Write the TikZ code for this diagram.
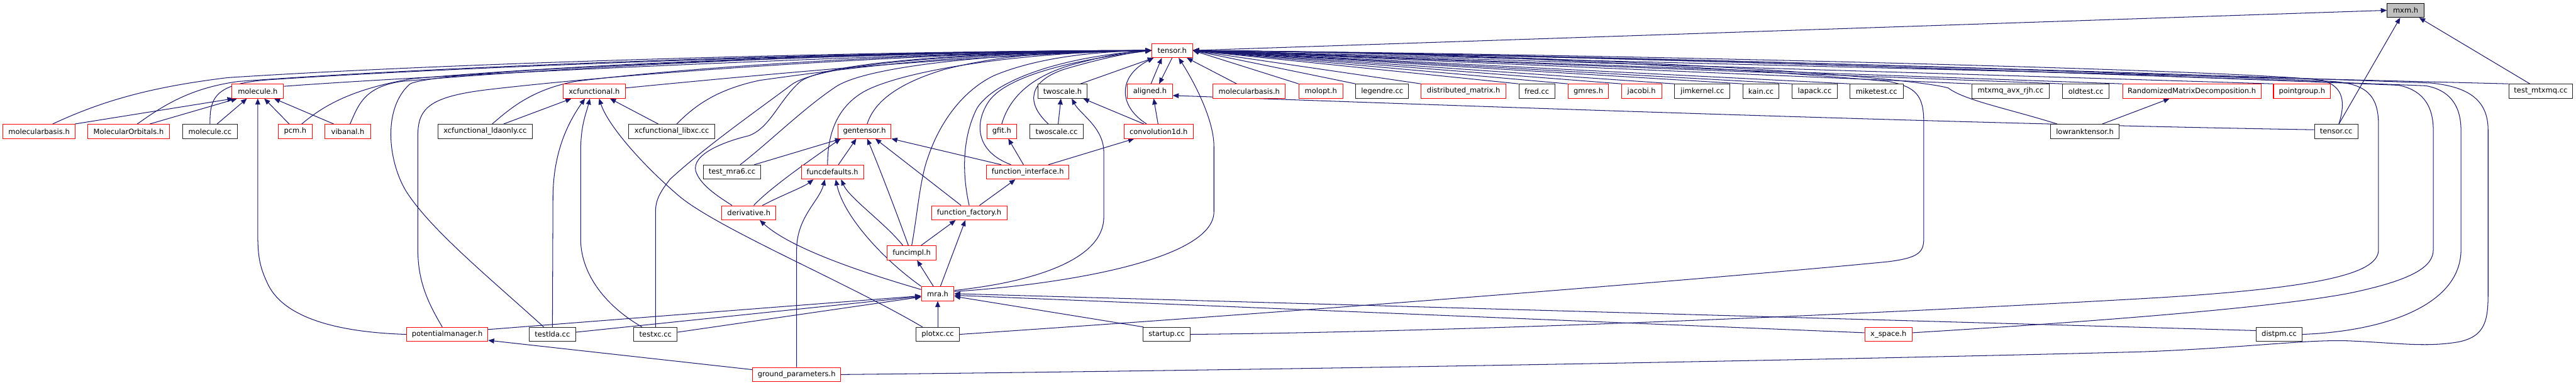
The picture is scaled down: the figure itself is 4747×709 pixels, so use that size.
\documentclass[tikz,border=0pt]{standalone}
\usepackage{fontspec}
\newfontfamily\dvs{DejaVu Sans}
\usetikzlibrary{arrows.meta}
\definecolor{edgeblue}{HTML}{191970}
\definecolor{boxred}{HTML}{FF0000}
\definecolor{boxblack}{HTML}{222222}
\definecolor{boxgray}{HTML}{BFBFBF}
\pgfdeclarelayer{bg}
\pgfsetlayers{bg,main}
\begin{document}
\begin{tikzpicture}[x=1pt,y=-1pt,
  nd/.style={draw, line width=1.2pt, minimum height=26pt, inner sep=0pt, fill=white, text=black,
             font=\dvs\fontsize{13.3pt}{16pt}\selectfont},
  rd/.style={nd, draw=boxred},
  bk/.style={nd, draw=boxblack},
  gy/.style={nd, draw=black, fill=boxgray},
  edg/.style={draw=edgeblue, line width=1.2pt, -{Triangle[length=11pt,width=9pt]}}]
\useasboundingbox (0,0) rectangle (4747,709);
% row 0,1
\node[gy, minimum width=68pt] (mxm) at (4433,19) {mxm.h};
\node[rd, minimum width=75pt] (tensorh) at (2160,93) {tensor.h};
% row 2
\node[rd, minimum width=95pt] (moleculeh) at (475,168) {molecule.h};
\node[rd, minimum width=115pt] (xcfunch) at (1095,168) {xcfunctional.h};
\node[bk, minimum width=91pt] (twoscaleh) at (1958,168) {twoscale.h};
\node[rd, minimum width=83pt] (alignedh) at (2119,168) {aligned.h};
\node[rd, minimum width=133pt] (molbasisB) at (2302,168) {molecularbasis.h};
\node[rd, minimum width=81pt] (molopt) at (2434,168) {molopt.h};
\node[bk, minimum width=97pt] (legendre) at (2547,168) {legendre.cc};
\node[rd, minimum width=156pt] (distmat) at (2697,168) {distributed\_matrix.h};
\node[bk, minimum width=66pt] (fred) at (2832,168) {fred.cc};
\node[rd, minimum width=75pt] (gmres) at (2927,168) {gmres.h};
\node[rd, minimum width=74pt] (jacobi) at (3025,168) {jacobi.h};
\node[bk, minimum width=102pt] (jimkernel) at (3137,168) {jimkernel.cc};
\node[bk, minimum width=66pt] (kain) at (3245,168) {kain.cc};
\node[bk, minimum width=83pt] (lapack) at (3344,168) {lapack.cc};
\node[bk, minimum width=98pt] (miketest) at (3458,168) {miketest.cc};
\node[bk, minimum width=143pt] (mtxmq) at (3705,168) {mtxmq\_avx\_rjh.cc};
\node[bk, minimum width=86pt] (oldtest) at (3844,168) {oldtest.cc};
\node[rd, minimum width=255pt] (rmd) at (4039,168) {RandomizedMatrixDecomposition.h};
\node[rd, minimum width=105pt] (pointgroup) at (4242,168) {pointgroup.h};
\node[bk, minimum width=118pt] (testmtxmq) at (4682,168) {test\_mtxmq.cc};
% row 3
\node[rd, minimum width=133pt] (molbasisA) at (72,242) {molecularbasis.h};
\node[rd, minimum width=150pt] (molorb) at (237,242) {MolecularOrbitals.h};
\node[bk, minimum width=100pt] (moleculecc) at (387,242) {molecule.cc};
\node[rd, minimum width=63pt] (pcm) at (544,242) {pcm.h};
\node[rd, minimum width=84pt] (vibanal) at (641,242) {vibanal.h};
\node[bk, minimum width=173pt] (xcldaonly) at (894,242) {xcfunctional\_ldaonly.cc};
\node[bk, minimum width=159pt] (xclibxc) at (1238,242) {xcfunctional\_libxc.cc};
\node[rd, minimum width=98pt] (gentensor) at (1593,242) {gentensor.h};
\node[rd, minimum width=55pt] (gfit) at (1846,242) {gfit.h};
\node[bk, minimum width=99pt] (twoscalecc) at (1947,242) {twoscale.cc};
\node[rd, minimum width=127pt] (conv1d) at (2135,242) {convolution1d.h};
\node[bk, minimum width=126pt] (lowrank) at (3842,242) {lowranktensor.h};
\node[bk, minimum width=80pt] (tensorcc) at (4305,242) {tensor.cc};
% row 4
\node[bk, minimum width=106pt] (testmra6) at (1349,317) {test\_mra6.cc};
\node[rd, minimum width=115pt] (funcdefaults) at (1534,317) {funcdefaults.h};
\node[rd, minimum width=152pt] (funcinterface) at (1894,317) {function\_interface.h};
% row 5
\node[rd, minimum width=100pt] (derivative) at (1380,392) {derivative.h};
\node[rd, minimum width=139pt] (funcfactory) at (1786,392) {function\_factory.h};
% row 6
\node[rd, minimum width=90pt] (funcimpl) at (1680,466) {funcimpl.h};
% row 7
\node[rd, minimum width=60pt] (mra) at (1728,541) {mra.h};
% row 8
\node[rd, minimum width=150pt] (potmgr) at (824,616) {potentialmanager.h};
\node[bk, minimum width=85pt] (testlda) at (1018,616) {testlda.cc};
\node[bk, minimum width=80pt] (testxc) at (1208,616) {testxc.cc};
\node[bk, minimum width=80pt] (plotxc) at (1728,616) {plotxc.cc};
\node[bk, minimum width=87pt] (startup) at (2150,616) {startup.cc};
\node[rd, minimum width=87pt] (xspace) at (3480,616) {x\_space.h};
\node[bk, minimum width=85pt] (distpm) at (4200,616) {distpm.cc};
% row 9
\node[rd, minimum width=162pt] (groundparams) at (1468,690) {ground\_parameters.h};

\begin{pgfonlayer}{bg}
% ---- to mxm.h
\draw[edg] (tensorh.east) -- (mxm.west);
\draw[edg] ([xshift=5pt]tensorcc.north) -- ([xshift=-10pt]mxm.south);
\draw[edg] ([xshift=-20pt]testmtxmq.north) -- ([xshift=25pt]mxm.south);
% ---- left bundle to tensor.h
\draw[edg] ([xshift=25pt]molbasisA.north) .. controls (190,185) and (280,160) .. (420,143) .. controls (900,112) and (1700,93) .. (tensorh.west);
\draw[edg] ([xshift=16pt]molorb.north) .. controls (300,195) and (350,162) .. (440,150) .. controls (900,116) and (1700,93) .. (tensorh.west);
\draw[edg] (moleculecc.north) .. controls (386,175) and (400,152) .. (510,146) .. controls (900,120) and (1700,93) .. (tensorh.west);
\draw[edg] ([yshift=9pt]moleculeh.east) .. controls (800,138) and (1700,95) .. (tensorh.west);
\draw[edg] ([xshift=12pt]pcm.north) .. controls (590,200) and (640,165) .. (760,145) .. controls (1100,115) and (1700,93) .. (tensorh.west);
\draw[edg] ([xshift=4pt]vibanal.north) .. controls (660,195) and (670,160) .. (740,150) .. controls (1100,118) and (1700,93) .. (tensorh.west);
\draw[edg] ([xshift=-9pt]potmgr.north) .. controls (790,560) and (770,520) .. (770,460) -- (770,250) .. controls (770,200) and (790,178) .. (900,165) .. controls (1200,130) and (1750,95) .. (tensorh.west);
\draw[edg] ([xshift=-16pt]testlda.north) .. controls (900,510) and (790,420) .. (747,350) .. controls (715,295) and (705,200) .. (755,155) .. controls (800,125) and (1700,95) .. (tensorh.west);
\draw[edg] ([xshift=13pt]xcldaonly.north) .. controls (940,200) and (980,165) .. (1060,150) .. controls (1300,120) and (1750,95) .. (tensorh.west);
\draw[edg] ([yshift=6pt]xcfunch.east) .. controls (1400,138) and (1800,100) .. (tensorh.west);
\draw[edg] ([xshift=9pt]xclibxc.north) .. controls (1280,195) and (1320,165) .. (1400,148) .. controls (1600,120) and (1800,97) .. (tensorh.west);
\draw[edg] (testxc.north) -- (1208,390) .. controls (1208,370) and (1215,355) .. (1235,330) .. controls (1300,270) and (1400,200) .. (1460,155) .. controls (1520,115) and (1800,97) .. (tensorh.west);
\draw[edg] ([xshift=-31pt]derivative.north) .. controls (1320,360) and (1290,340) .. (1282,315) .. controls (1275,285) and (1330,262) .. (1380,250) .. controls (1420,235) and (1435,185) .. (1475,150) .. controls (1530,112) and (1800,97) .. (tensorh.west);
\draw[edg] ([xshift=15pt]testmra6.north) .. controls (1420,260) and (1480,200) .. (1540,160) .. controls (1600,120) and (1850,97) .. (tensorh.west);
\draw[edg] ([xshift=-9pt]funcdefaults.north) .. controls (1525,250) and (1540,200) .. (1590,170) .. controls (1650,135) and (1850,97) .. (tensorh.west);
\draw[edg] ([xshift=5pt]gentensor.north) .. controls (1610,190) and (1650,155) .. (1740,128) .. controls (1850,100) and (1950,95) .. (tensorh.west);
\draw[edg] (funcimpl.north) .. controls (1690,400) and (1695,330) .. (1710,290) .. controls (1730,230) and (1770,170) .. (1830,140) .. controls (1900,110) and (2000,95) .. (tensorh.west);
\draw[edg] (funcfactory.north) .. controls (1775,330) and (1770,260) .. (1800,200) .. controls (1830,150) and (1950,105) .. (tensorh.west);
\draw[edg] ([xshift=-31pt]funcinterface.north) .. controls (1800,280) and (1795,230) .. (1820,190) .. controls (1850,140) and (1980,110) .. (tensorh.west);
\draw[edg] (gfit.north) .. controls (1860,180) and (1900,140) .. (1980,118) .. controls (2040,102) and (2080,95) .. (tensorh.west);
\draw[edg] ([xshift=-15pt]twoscalecc.north) .. controls (1890,190) and (1895,150) .. (1960,128) .. controls (2020,110) and (2080,97) .. (tensorh.west);
\draw[edg] ([xshift=33pt]twoscaleh.north) -- ([xshift=4pt]tensorh.south west);
\draw[edg] ([xshift=-22pt]conv1d.north) .. controls (2060,195) and (2060,140) .. ([xshift=4pt]tensorh.south west);
\draw[edg] ([xshift=2pt]alignedh.north) -- ([xshift=-19pt]tensorh.south);
\draw[edg] (tensorh.south) -- ([xshift=17pt]alignedh.north);
\draw[edg] ([xshift=-23pt]molbasisB.north) -- ([xshift=27pt]tensorh.south);
\draw[edg] ([yshift=4pt]mra.east) .. controls (1950,525) and (2237,480) .. (2237,390) -- (2237,270) .. controls (2237,220) and (2200,150) .. ([xshift=12pt]tensorh.south);
% ---- twoscale.h, aligned.h
\draw[edg] ([yshift=6pt]mra.east) .. controls (1900,520) and (2034,480) .. (2034,400) -- (2034,280) .. controls (2034,235) and (1990,210) .. ([xshift=17pt]twoscaleh.south);
\draw[edg] ([xshift=-27pt]conv1d.north) -- ([xshift=38pt]twoscaleh.south);
\draw[edg] ([xshift=3pt]twoscalecc.north) -- ([xshift=-3pt]twoscaleh.south);
\draw[edg] ([xshift=-1pt]conv1d.north) -- ([xshift=7pt]alignedh.south);
\draw[edg] ([yshift=3pt]tensorcc.west) .. controls (3600,228) and (2700,195) .. ([yshift=-8pt]alignedh.east);
% ---- right bundle to tensor.h
\foreach \n in {molopt,legendre,distmat,fred,gmres,jacobi,jimkernel,kain,lapack,miketest,mtxmq,oldtest,rmd,pointgroup,testmtxmq}
  \draw[edg] (\n.north west) -- (tensorh.east);
\draw[edg] ([xshift=-51pt]lowrank.north) .. controls (3700,200) and (3620,185) .. (3590,162) .. controls (3500,138) and (2900,100) .. (tensorh.east);
\draw[edg] ([xshift=5pt]tensorcc.north) .. controls (4322,190) and (4320,160) .. (4280,148) .. controls (4150,130) and (3000,100) .. (tensorh.east);
\draw[edg] (plotxc.east) .. controls (2600,560) and (3300,500) .. (3480,482) .. controls (3535,475) and (3545,465) .. (3545,440) -- (3545,225) .. controls (3545,175) and (3530,160) .. (3480,150) .. controls (3200,125) and (2700,97) .. (tensorh.east);
\draw[edg] (startup.east) .. controls (2800,610) and (3600,570) .. (3950,550) .. controls (4300,530) and (4383,500) .. (4383,460) -- (4383,230) .. controls (4383,175) and (4360,155) .. (4300,150) .. controls (3900,132) and (2900,100) .. (tensorh.east);
\draw[edg] ([yshift=3pt]xspace.east) .. controls (3900,590) and (4200,565) .. (4330,540) .. controls (4450,515) and (4484,490) .. (4484,460) -- (4484,240) .. controls (4484,190) and (4460,165) .. (4420,157) .. controls (4000,140) and (2900,100) .. (tensorh.east);
\draw[edg] (distpm.east) .. controls (4400,610) and (4535,560) .. (4535,460) -- (4535,240) .. controls (4535,190) and (4510,165) .. (4470,158) .. controls (4000,140) and (2900,100) .. (tensorh.east);
\draw[edg] (groundparams.east) .. controls (2500,680) and (3500,660) .. (3950,648) .. controls (4150,640) and (4250,625) .. (4330,628) .. controls (4420,632) and (4470,640) .. (4530,630) .. controls (4580,620) and (4585,590) .. (4585,540) -- (4585,240) .. controls (4585,185) and (4550,160) .. (4480,153) .. controls (4000,135) and (2900,100) .. (tensorh.east);
% ---- RandomizedMatrixDecomposition
\draw[edg] ([xshift=32pt]lowrank.north) -- ([xshift=-41pt]rmd.south);
% ---- molecule.h
\draw[edg] ([xshift=66pt]molbasisA.north) -- ([xshift=-45pt]moleculeh.south);
\draw[edg] ([xshift=39pt]molorb.north) -- ([xshift=-38pt]moleculeh.south);
\draw[edg] ([xshift=13pt]moleculecc.north) -- ([xshift=-20pt]moleculeh.south);
\draw[edg] (potmgr.west) .. controls (620,612) and (520,585) .. (492,520) .. controls (478,490) and (475,470) .. (475,430) -- (moleculeh.south);
\draw[edg] ([xshift=-11pt]pcm.north) -- ([xshift=12pt]moleculeh.south);
\draw[edg] ([xshift=-26pt]vibanal.north) -- ([xshift=30pt]moleculeh.south);
% ---- xcfunctional.h
\draw[edg] ([xshift=34pt]xcldaonly.north) -- ([xshift=-42pt]xcfunch.south);
\draw[edg] (testlda.north) -- (1019,360) .. controls (1020,290) and (1040,235) .. ([xshift=-17pt]xcfunch.south);
\draw[edg] ([xshift=-25pt]testxc.north) .. controls (1110,560) and (1070,500) .. (1070,440) -- (1070,280) .. controls (1070,230) and (1080,210) .. ([xshift=-8pt]xcfunch.south);
\draw[edg] ([xshift=-28pt]plotxc.north) .. controls (1560,520) and (1320,420) .. (1250,360) .. controls (1180,300) and (1120,230) .. ([xshift=9pt]xcfunch.south);
\draw[edg] ([xshift=-25pt]xclibxc.north) -- ([xshift=29pt]xcfunch.south);
% ---- gentensor, gfit, convolution, function_interface
\draw[edg] ([xshift=9pt]derivative.north) .. controls (1420,345) and (1500,290) .. ([xshift=-44pt]gentensor.south);
\draw[edg] ([xshift=41pt]testmra6.north) -- ([xshift=-43pt]gentensor.south);
\draw[edg] ([xshift=11pt]funcdefaults.north) -- ([xshift=-15pt]gentensor.south);
\draw[edg] ([xshift=-6pt]funcimpl.north) .. controls (1655,400) and (1625,320) .. ([xshift=5pt]gentensor.south);
\draw[edg] ([xshift=-15pt]funcfactory.north) -- ([xshift=20pt]gentensor.south);
\draw[edg] ([xshift=-49pt]funcinterface.north) -- (gentensor.south east);
\draw[edg] ([xshift=-8pt]funcinterface.north) -- ([xshift=12pt]gfit.south);
\draw[edg] ([xshift=38pt]funcinterface.north) -- ([xshift=-45pt]conv1d.south);
\draw[edg] ([xshift=19pt]funcfactory.north) -- ([xshift=-23pt]funcinterface.south);
% ---- funcdefaults.h
\draw[edg] ([xshift=25pt]derivative.north) .. controls (1440,360) and (1480,345) .. ([xshift=-35pt]funcdefaults.south);
\draw[edg] (groundparams.north) -- (1468,460) .. controls (1468,400) and (1510,370) .. ([xshift=-14pt]funcdefaults.south);
\draw[edg] (mra.north west) .. controls (1630,480) and (1555,400) .. ([xshift=6pt]funcdefaults.south);
\draw[edg] ([xshift=-16pt]funcimpl.north) .. controls (1630,410) and (1565,365) .. ([xshift=16pt]funcdefaults.south);
% ---- function_factory, funcimpl, derivative
\draw[edg] ([xshift=17pt]funcimpl.north) -- ([xshift=-25pt]funcfactory.south);
\draw[edg] ([xshift=5pt]mra.north) -- ([xshift=-7pt]funcfactory.south);
\draw[edg] ([xshift=-8pt]mra.north) -- ([xshift=10pt]funcimpl.south);
\draw[edg] ([yshift=-6pt]mra.north west) .. controls (1600,505) and (1460,460) .. ([xshift=20pt]derivative.south);
% ---- mra.h
\draw[edg] ([yshift=9pt]potmgr.east) -- ([yshift=-4pt]mra.west);
\draw[edg] ([yshift=4pt]testlda.east) -- ([yshift=-5pt]mra.west);
\draw[edg] ([yshift=4pt]testxc.east) -- ([yshift=-6pt]mra.west);
\draw[edg] (plotxc.north) -- (mra.south);
\draw[edg] ([xshift=-43pt]startup.north) -- ([yshift=-5pt]mra.east);
\draw[edg] ([yshift=3pt]xspace.west) -- ([yshift=-3pt]mra.east);
\draw[edg] ([yshift=7pt]distpm.west) -- (mra.east);
% ---- potentialmanager.h
\draw[edg] ([yshift=9pt]groundparams.west) -- ([yshift=-11pt]potmgr.east);
\end{pgfonlayer}
\end{tikzpicture}
\end{document}
